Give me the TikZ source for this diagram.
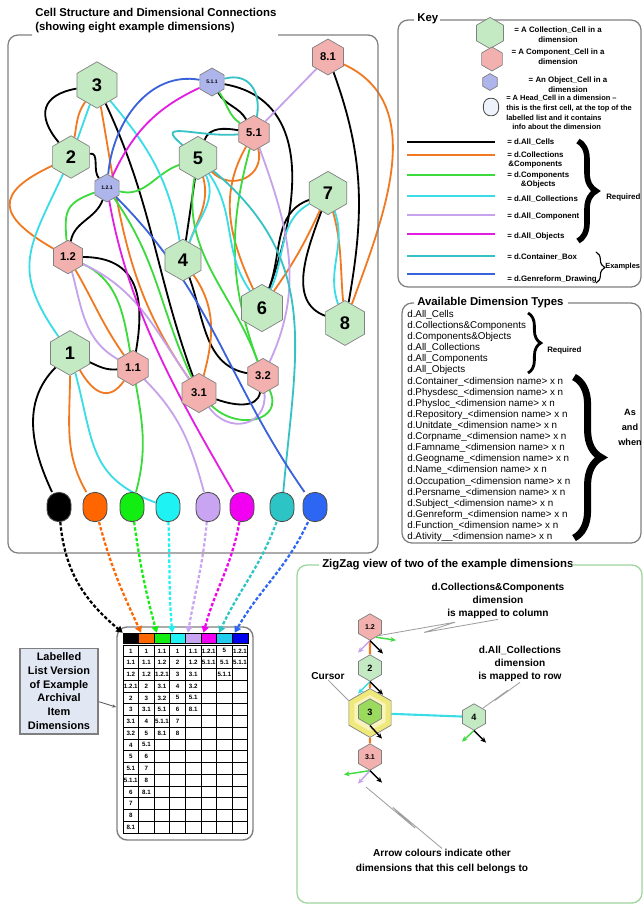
\documentclass[tikz,border=0pt]{standalone}
\usepackage{fontspec}
\setmainfont{Liberation Sans}
\usetikzlibrary{shapes.geometric,arrows.meta,decorations.pathreplacing,calc}

\pgfdeclarelayer{background}
\pgfsetlayers{background,main}

\definecolor{cellgreen}{HTML}{C4EAC4}
\definecolor{cellred}{HTML}{F2B1AE}
\definecolor{cellblue}{HTML}{ADB5EB}
\definecolor{cellhead}{HTML}{EEF2FA}
\definecolor{cursorfill}{HTML}{EFE97C}
\definecolor{cursorin}{HTML}{F8F4BC}
\definecolor{cursorgreen}{HTML}{9ADB5E}
\definecolor{frameline}{HTML}{7F7F7F}
\definecolor{zzline}{HTML}{9CD49C}
\definecolor{labelblue}{HTML}{E2E8F3}
\definecolor{dorange}{HTML}{F07A22}
\definecolor{dgreen}{HTML}{3CDA3C}
\definecolor{dcyan}{HTML}{3ADCE6}
\definecolor{dlav}{HTML}{C6A2EC}
\definecolor{dmag}{HTML}{E21EE2}
\definecolor{dteal}{HTML}{36C2C4}
\definecolor{dblue}{HTML}{3A62DA}
\definecolor{horange}{HTML}{FF6600}
\definecolor{hgreen}{HTML}{12EE12}
\definecolor{hcyan}{HTML}{1EF2F2}
\definecolor{hlav}{HTML}{C9A4F2}
\definecolor{hmag}{HTML}{F200F2}
\definecolor{hteal}{HTML}{2CC4C4}
\definecolor{hblue}{HTML}{2E66F4}
\definecolor{tteal}{HTML}{22CCEE}
\definecolor{tblue}{HTML}{0000EE}

\begin{document}
\begin{tikzpicture}[x=0.25mm,y=0.25mm,
    hexcell/.style={draw=gray, line width=0.5pt, regular polygon, regular polygon sides=6,
      shape border rotate=30, inner sep=0pt},
    gcell/.style={hexcell, fill=cellgreen, minimum size=11.2mm, font=\fontsize{13}{13}\selectfont\bfseries},
    rcell/.style={hexcell, fill=cellred, minimum size=8.8mm, font=\fontsize{8}{8}\selectfont\bfseries},
    bcell/.style={hexcell, fill=cellblue, minimum size=7mm, font=\fontsize{3.6}{3.6}\selectfont\bfseries},
    headcell/.style={draw=gray!60!black, line width=0.6pt, rounded corners=2.9mm,
      minimum width=6mm, minimum height=7.3mm, inner sep=0pt},
    dimline/.style={line width=1.3pt},
    allc/.style={dimline, black},
    colc/.style={dimline, dorange},
    cmpo/.style={dimline, dgreen},
    acol/.style={dimline, dcyan},
    acmp/.style={dimline, dlav},
    aobj/.style={dimline, dmag},
    cbox/.style={dimline, dteal},
    genr/.style={dimline, dblue},
    tolist/.style={line width=1.6pt, dash pattern=on 2.4pt off 1.4pt, -{Triangle[length=4.5pt,width=5pt]}},
    boxframe/.style={draw=frameline, line width=0.9pt, rounded corners=2.5mm},
    ttl/.style={font=\fontsize{8.1}{10}\selectfont\bfseries, inner sep=0pt},
    keytxt/.style={font=\fontsize{5.6}{7}\selectfont\bfseries, inner sep=0pt},
    hdcell/.style={draw=black, line width=0.4pt, minimum width=3.9mm, minimum height=2.5mm, inner sep=0pt},
    tval/.style={font=\fontsize{4.4}{4.4}\selectfont\bfseries, inner sep=0pt},
    zztxt/.style={font=\fontsize{7.2}{9.5}\selectfont\bfseries, align=center, inner sep=0pt},
    zarr/.style={line width=1pt, -{Stealth[length=4pt,width=3.6pt]}},
    callout/.style={draw=gray!75, line width=0.6pt},
    bigbrace/.style={decorate, decoration={brace, amplitude=#1}},
  ]

  \useasboundingbox (0,0) rectangle (644,-911);

  % cell structure
  \node[ttl, anchor=north west, align=left] (mainttl) at (35,-8) {Cell Structure and Dimensional Connections\\(showing eight example dimensions)};
  \draw[boxframe] (32,-35) -- (8,-35) -- (8,-553) -- (378,-553) -- (378,-35) -- (278,-35);

  \node[gcell, minimum size=11.6mm] (C3) at (97,-85) {3};
  \node[gcell, minimum size=10.6mm] (C2) at (71,-157) {2};
  \node[bcell] (C121) at (107,-188) {1.2.1};
  \node[bcell] (C511) at (212,-82) {5.1.1};
  \node[rcell, minimum size=9mm] (C81) at (328,-57) {8.1};
  \node[rcell] (C51) at (254,-133) {5.1};
  \node[gcell, minimum size=10.8mm] (C5) at (198,-158) {5};
  \node[gcell, minimum size=10.8mm] (C7) at (328,-193) {7};
  \node[rcell, minimum size=8.4mm] (C12) at (68,-257) {1.2};
  \node[gcell, minimum size=10.4mm] (C4) at (183,-260) {4};
  \node[gcell, minimum size=11.8mm] (C6) at (262,-308) {6};
  \node[gcell] (C8) at (345,-323) {8};
  \node[gcell] (C1) at (70,-353) {1};
  \node[rcell] (C11) at (133,-368) {1.1};
  \node[rcell, minimum size=9.8mm] (C31) at (199,-393) {3.1};
  \node[rcell] (C32) at (263,-376) {3.2};

  \node[headcell, fill=black] (H1) at (59,-507) {};
  \node[headcell, fill=horange] (H2) at (95,-507) {};
  \node[headcell, fill=hgreen] (H3) at (132,-507) {};
  \node[headcell, fill=hcyan] (H4) at (168,-507) {};
  \node[headcell, fill=hlav] (H5) at (208,-507) {};
  \node[headcell, fill=hmag] (H6) at (242,-507) {};
  \node[headcell, fill=hteal] (H7) at (282,-507) {};
  \node[headcell, fill=hblue] (H8) at (315,-507) {};

  \begin{pgfonlayer}{background}
    % d.All_Cells
    \draw[allc] (H1) to[out=115,in=225] (C1);
    \draw[allc] (C1) to[out=-25,in=185] (C11);
    \draw[allc] (C11) to[out=80,in=0,looseness=1.3] (C12);
    \draw[allc] (C12) to[out=80,in=-110] (C121);
    \draw[allc] (C121) to[out=130,in=10] (C2);
    \draw[allc] (C2) to[out=130,in=190,looseness=1.6] (C3);
    \draw[allc] (C3) to[out=-65,in=110] (C31);
    \draw[allc] (C31) to[out=-20,in=-100] (C32);
    \draw[allc] (C32) to[out=170,in=-70] (C4);
    \draw[allc] (C4) -- (C5);
    \draw[allc] (C5) to[out=70,in=170] (C51);
    \draw[allc] (C51) to[out=120,in=-60] (C511);
    \draw[allc] (C511) to[out=-10,in=70,looseness=1.1] (C6);
    \draw[allc] (C6) to[out=70,in=200] (C7);
    \draw[allc] (C7) to[out=-110,in=160] (C8);
    \draw[allc] (C8) to[out=80,in=-70] (C81);
    % d.Collections&Components
    \draw[colc] (H2) to[out=120,in=-90] (C1);
    \draw[colc] (C1) to[out=-60,in=235,looseness=1.5] (C11);
    \draw[colc] (C11) to[out=125,in=-60] (C12);
    \draw[colc] (C12) to[out=150,in=205,looseness=2] (C2);
    \draw[colc] (C2) to[out=80,in=235] (C3);
    \draw[colc] (C3) to[out=-80,in=125] (C31);
    \draw[colc] (C31) to[out=75,in=-55] (C4);
    \draw[colc] (C4) to[out=70,in=-75] (C5);
    \draw[colc] (C5) to[out=-45,in=-75,looseness=1.4] (C51);
    \draw[colc] (C51) to[out=-120,in=115] (C6);
    \draw[colc] (C6) to[out=55,in=-115] (C7);
    \draw[colc] (C7) to[out=-75,in=95] (C8);
    \draw[colc] (C8) to[out=70,in=-25] (C81);
    % d.Components&Objects
    \draw[cmpo] (H3) to[out=75,in=-80] (C11);
    \draw[cmpo] (C11) to[out=100,in=-25] (C12);
    \draw[cmpo] (C12) to[out=95,in=200,looseness=1.4] (C121);
    \draw[cmpo] (C121) to[out=-15,in=200] (C5);
    \draw[cmpo] (C5) to[out=-100,in=110] (C32);
    \draw[cmpo] (C121) to[out=-55,in=115] (C31);
    \draw[cmpo] (C31) to[out=-45,in=-65,looseness=1.5] (C32);
    \draw[cmpo] (C32) to[out=110,in=-105] (C51);
    \draw[cmpo] (C51) to[out=145,in=-55] (C511);
    % d.All_Collections
    \draw[acol] (H4) to[out=160,in=-75,looseness=1.2] (C1);
    \draw[acol] (C1) to[out=125,in=-115,looseness=1.3] (C2);
    \draw[acol] (C2) to[out=70,in=-110] (C3);
    \draw[acol] (C3) to[out=-50,in=100] (C4);
    \draw[acol] (C4) to[out=70,in=-65] (C5);
    \draw[acol] (C5) to[out=-55,in=125] (C6);
    \draw[acol] (C6) to[out=65,in=210] (C7);
    \draw[acol] (C7) to[out=-70,in=110] (C8);
    % d.All_Components
    \draw[acmp] (H5) to[out=105,in=-45] (C11);
    \draw[acmp] (C11) to[out=150,in=-75] (C12);
    \draw[acmp] (C12) to[out=-25,in=125] (C31);
    \draw[acmp] (C31) to[out=-55,in=-85,looseness=1.5] (C32);
    \draw[acmp] (C32) to[out=65,in=-70] (C51);
    \draw[acmp] (C51) -- (C81);
    % d.All_Objects
    \draw[aobj] (H6) to[out=120,in=-80,looseness=0.9] (C121);
    \draw[aobj] (C121) to[out=65,in=205] (C511);
    % d.Container_Box
    \draw[cbox] (H7) to[out=85,in=-40,looseness=1.1] (C5);
    \draw[cbox] (C5) to[out=140,in=185,looseness=1.8] (C51);
    \draw[cbox] (C511) to[out=15,in=80,looseness=1.3] (C51);
    % d.Genreform_Drawing
    \draw[genr] (H8) to[out=125,in=-45] (C121);
    \draw[genr] (C121) to[out=85,in=170] (C511);
  \end{pgfonlayer}

  % labelled list
  \node[draw=frameline, line width=1pt, rounded corners=2.5mm, minimum width=34mm, minimum height=53.25mm] (tbl) at (185,-733.5) {};
  \node[hdcell, fill=black] (T1) at (130.8,-638) {};
  \node[hdcell, fill=horange] (T2) at (146.4,-638) {};
  \node[hdcell, fill=hgreen] (T3) at (162.0,-638) {};
  \node[hdcell, fill=hcyan] (T4) at (177.6,-638) {};
  \node[hdcell, fill=hlav] (T5) at (193.2,-638) {};
  \node[hdcell, fill=hmag] (T6) at (208.8,-638) {};
  \node[hdcell, fill=tteal] (T7) at (224.4,-638) {};
  \node[hdcell, fill=tblue] (T8) at (240.0,-638) {};
  \foreach \i in {0,...,8} \draw[line width=0.6pt] ({123+15.6*\i},-645) -- ({123+15.6*\i},-833);
  \foreach \j in {0,...,16} \draw[line width=0.6pt] (123,{-645-11.75*\j}) -- (247.8,{-645-11.75*\j});
  \foreach \v [count=\r] in {1,1.1,1.2,1.2.1,2,3,3.1,3.2,4,5,5.1,5.1.1,6,7,8,8.1}
    \node[tval] at (130.8,{-639.125-11.75*\r}) {\v};
  \foreach \v [count=\r] in {1,1.1,1.2,2,3,3.1,4,5,5.1,6,7,8,8.1}
    \node[tval] at (146.4,{-639.125-11.75*\r}) {\v};
  \foreach \v [count=\r] in {1.1,1.2,1.2.1,3.1,3.2,5.1,5.1.1,8.1}
    \node[tval] at (162.0,{-639.125-11.75*\r}) {\v};
  \foreach \v [count=\r] in {1,2,3,4,5,6,7,8}
    \node[tval] at (177.6,{-639.125-11.75*\r}) {\v};
  \foreach \v [count=\r] in {1.1,1.2,3.1,3.2,5.1,8.1}
    \node[tval] at (193.2,{-639.125-11.75*\r}) {\v};
  \foreach \v [count=\r] in {1.2.1,5.1.1}
    \node[tval] at (208.8,{-639.125-11.75*\r}) {\v};
  \foreach \v [count=\r] in {5,5.1,5.1.1}
    \node[tval] at (224.4,{-639.125-11.75*\r}) {\v};
  \foreach \v [count=\r] in {1.2.1,5.1.1}
    \node[tval] at (240.0,{-639.125-11.75*\r}) {\v};

  \draw[tolist, black] (H1) to[out=-85,in=140] (T1.north west);
  \draw[tolist, horange] (H2) to[out=-75,in=115] (T2.135);
  \draw[tolist, hgreen] (H3) to[out=-82,in=105] (T3.135);
  \draw[tolist, hcyan] (H4) to[out=-88,in=95] (T4.135);
  \draw[tolist, hlav] (H5) to[out=-95,in=80] (T5.135);
  \draw[tolist, hmag] (H6) to[out=-100,in=75] (T6.135);
  \draw[tolist, hteal] (H7) to[out=-110,in=65] (T7.135);
  \draw[tolist, hblue] (H8) to[out=-115,in=60] (T8.135);

  \node[draw=frameline, fill=labelblue, line width=1pt, minimum width=19.5mm, minimum height=20.5mm, align=center, font=\fontsize{7.8}{9.7}\selectfont\bfseries] (lbl) at (59,-691) {Labelled\\List Version\\of Example\\Archival\\Item\\Dimensions};
  \draw[-{Stealth[length=3pt]}, line width=0.6pt, gray!70!black] (lbl.-15) -- (tbl.159);

  % key
  \node[ttl, anchor=west] (keyttl) at (417,-19) {Key};
  \draw[boxframe] (414,-20) -- (398,-20) -- (398,-287) -- (641,-287) -- (641,-20) -- (440,-20);
  \node[gcell, minimum size=7.8mm] (kcol) at (490,-33) {};
  \node[rcell, minimum size=6mm] (kcmp) at (492,-59) {};
  \node[bcell, minimum size=4.2mm] (kobj) at (490,-82) {};
  \node[headcell, fill=cellhead, minimum width=3.8mm, minimum height=4.4mm, rounded corners=1.8mm] (khead) at (491,-107) {};
  \node[keytxt, align=center] (kcolt) at (558,-35) {= A Collection\_Cell in a\\dimension};
  \node[keytxt, align=center] (kcmpt) at (558,-57) {= A Component\_Cell in a\\dimension};
  \node[keytxt, align=center] (kobjt) at (568,-85) {= An Object\_Cell in a\\dimension};
  \node[keytxt, align=left, anchor=north west, font=\fontsize{5.3}{6.9}\selectfont\bfseries] (kheadt) at (506,-95) {= A Head\_Cell in a dimension --\\this is the first cell, at the top of the\\labelled list and it contains\\\hspace{1.5mm}info about the dimension};

  \draw[allc, line width=2pt] (407,-142) -- (495,-142);
  \draw[colc, line width=1.7pt] (407,-155) -- (495,-155);
  \draw[cmpo, line width=1.7pt] (407,-175) -- (495,-175);
  \draw[acol, line width=1.7pt] (407,-196) -- (495,-196);
  \draw[acmp, line width=1.7pt] (407,-215) -- (495,-215);
  \draw[aobj, line width=1.7pt] (407,-234) -- (495,-234);
  \draw[cbox, line width=1.7pt] (407,-256) -- (495,-256);
  \draw[genr, line width=1.7pt] (407,-274) -- (495,-274);
  \node[keytxt, anchor=west] at (507,-142) {= d.All\_Cells};
  \node[keytxt, anchor=west, align=center] at (507,-160) {= d.Collections\\\&Components};
  \node[keytxt, anchor=west, align=center] at (507,-180) {= d.Components\\\&Objects};
  \node[keytxt, anchor=west] at (507,-199) {= d.All\_Collections};
  \node[keytxt, anchor=west] at (507,-216) {= d.All\_Component};
  \node[keytxt, anchor=west] at (507,-236) {= d.All\_Objects};
  \node[keytxt, anchor=west] at (507,-257) {= d.Container\_Box};
  \node[keytxt, anchor=west] at (507,-279) {= d.Genreform\_Drawing};
  \draw[bigbrace=4.5mm, line width=4pt] (578,-141) -- (578,-241);
  \node[keytxt, anchor=west] at (606,-197) {Required};
  \draw[bigbrace=2.2mm, line width=0.8pt] (596,-252) -- (596,-283);
  \node[keytxt, anchor=west, font=\fontsize{5.3}{7}\selectfont\bfseries] at (605,-267) {Examples};

  % available dimension types
  \node[ttl, anchor=west] (avttl) at (417,-303) {Available Dimension Types};
  \draw[boxframe] (414,-303) -- (402,-303) -- (402,-543) -- (641,-543) -- (641,-303) -- (568,-303);
  \node[anchor=north west, align=left, inner sep=0pt, font=\fontsize{7}{7.9}\selectfont] (avlist) at (407,-310) {d.All\_Cells\\d.Collections\&Components\\d.Components\&Objects\\d.All\_Collections\\d.All\_Components\\d.All\_Objects\\d.Container\_<dimension name> x n\\d.Physdesc\_<dimension name> x n\\d.Physloc\_<dimension name> x n\\d.Repository\_<dimension name> x n\\d.Unitdate\_<dimension name> x n\\d.Corpname\_<dimension name> x n\\d.Famname\_<dimension name> x n\\d.Geogname\_<dimension name> x n\\d.Name\_<dimension name> x n\\d.Occupation\_<dimension name> x n\\d.Persname\_<dimension name> x n\\d.Subject\_<dimension name> x n\\d.Genreform\_<dimension name> x n\\d.Function\_<dimension name> x n\\d.Ativity\_\_<dimension name> x n};
  \draw[bigbrace=3.2mm, line width=2pt] (528,-313) -- (528,-373);
  \node[keytxt, anchor=west] at (547,-350) {Required};
  \draw[bigbrace=6.8mm, line width=5pt] (574,-377) -- (574,-538);
  \node[align=center, inner sep=0pt, font=\fontsize{6.5}{10.7}\selectfont\bfseries] (asandwhen) at (630,-427) {As\\and\\when};

  % zigzag view
  \node[ttl, anchor=west] (zzttl) at (322,-565) {ZigZag view of two of the example dimensions};
  \draw[boxframe, draw=zzline] (319,-565) -- (297,-565) -- (297,-903) -- (642,-903) -- (642,-565) -- (572,-565);

  \node[rcell, minimum size=6.6mm, font=\fontsize{5}{5}\selectfont\bfseries] (Z12) at (370,-627) {1.2};
  \node[gcell, minimum size=6.6mm, font=\fontsize{6.5}{6.5}\selectfont\bfseries] (Z2) at (370,-668) {2};
  \node[hexcell, fill=cursorfill, minimum size=12.2mm] (Zcur) at (370,-713) {};
  \node[hexcell, draw=none, fill=cursorin, minimum size=9mm] (Zcurin) at (370,-713) {};
  \node[hexcell, fill=cursorgreen, minimum size=6.6mm, font=\fontsize{6.5}{6.5}\selectfont\bfseries] (Z3) at (370,-712) {3};
  \node[gcell, minimum size=6.6mm, font=\fontsize{6.5}{6.5}\selectfont\bfseries] (Z4) at (474,-717) {4};
  \node[rcell, minimum size=6.6mm, font=\fontsize{5}{5}\selectfont\bfseries] (Z31) at (370,-757) {3.1};
  \coordinate (arrtip) at (366,-787);

  \begin{pgfonlayer}{background}
    \draw[colc, line width=1.5pt] (Z12) -- (Z2) -- (Zcur) -- (Z31);
    \draw[acol, line width=1.5pt] (Zcur) -- (Z4);
  \end{pgfonlayer}

  \draw[zarr, dlav] (Z12.south) -- ++(-12,-12);
  \draw[zarr, black] (Z12.south) -- ++(13,-13);
  \draw[zarr, dgreen] (Z12.-60) -- ++(20,-3);
  \draw[zarr, dcyan] (Z2.south) -- ++(-12,-12);
  \draw[zarr, black] (Z2.south) -- ++(13,-13);
  \draw[zarr, black] (Z3.south) -- ++(12,-13);
  \draw[zarr, dgreen] (Z4.south) -- ++(-12,-11);
  \draw[zarr, black] (Z4.south) -- ++(12,-12);
  \draw[zarr, dgreen] (Z31.south) -- ++(-26,-4);
  \draw[zarr, dlav] (Z31.south) -- ++(-12,-13);
  \draw[zarr, black] (Z31.south) -- ++(12,-12);

  \node[zztxt] (ZcolT) at (498,-601) {d.Collections\&Components\\dimension\\is mapped to column};
  \node[zztxt] (ZrowT) at (520,-664) {d.All\_Collections\\dimension\\is mapped to row};
  \node[zztxt] (ZcurT) at (328,-676) {Cursor};
  \node[zztxt, font=\fontsize{7.2}{10.7}\selectfont\bfseries] (ZarrT) at (442,-861) {Arrow colours indicate other\\dimensions that this cell belongs to};

  \draw[callout] (ZcolT.south) -- ($(ZcolT.south)!0.62!(Z12.-45)+(0,-3)$) -- ($(ZcolT.south)!0.36!(Z12.-45)+(0,3)$) -- (Z12.-45);
  \draw[callout] (ZrowT.south) -- ($(ZrowT.south)!0.62!(Z4.45)+(-2,-2)$) -- ($(ZrowT.south)!0.38!(Z4.45)+(2,2)$) -- (Z4.45);
  \draw[callout] (ZcurT.south) -- ($(ZcurT.south)!0.62!(Zcur.150)+(2,-2)$) -- ($(ZcurT.south)!0.38!(Zcur.150)+(-2,2)$) -- (Zcur.150);
  \draw[callout] (ZarrT.north) -- ($(ZarrT.north)!0.62!(arrtip)+(-2,3)$) -- ($(ZarrT.north)!0.38!(arrtip)+(2,-3)$) -- (arrtip);
\end{tikzpicture}
\end{document}
